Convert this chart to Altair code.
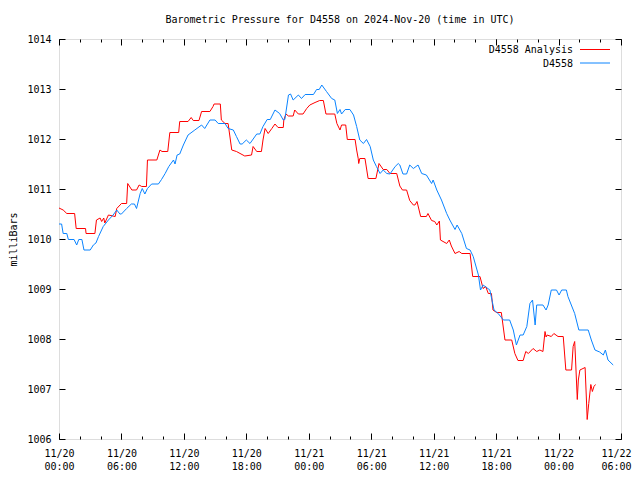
import altair as alt
import pandas as pd

# ---- data (hours after 2024-11-20 00:00 UTC, millibars) ----
series_names = ["D4558 Analysis", "D4558"]
series_colors = ["#ff0000", "#0a84ff"]

red_hours = [0.0, 0.4, 0.75, 1.5, 1.65, 2.55, 2.6, 3.45, 3.6, 3.95, 4.1, 4.3, 4.4, 4.75, 5.4, 5.55,
             6.0, 6.5, 6.6, 7.0, 7.45, 7.7, 7.95, 8.4, 8.5, 9.4, 9.7, 9.9, 10.45, 10.65, 11.5, 11.6,
             12.4, 12.7, 12.9, 13.45, 13.7, 14.5, 14.8, 14.9, 15.5, 15.6, 15.95, 16.25, 16.6, 17.05,
             17.85, 18.5, 18.65, 19.0, 19.45, 19.6, 19.8, 20.1, 20.45, 20.75, 21.05, 21.55, 21.6,
             21.8, 22.05, 22.5, 22.65, 23.0, 23.45, 23.8, 24.1, 24.6, 25.05, 25.4, 25.65, 26.5, 26.7,
             27.0, 27.15, 27.55, 27.7, 28.45, 28.6, 28.75, 28.8, 28.9, 29.4, 29.7, 30.45, 30.75,
             31.15, 31.5, 31.8, 32.45, 32.75, 33.0, 33.4, 33.7, 34.05, 34.2, 34.4, 34.75, 35.3,
             35.45, 35.8, 36.1, 36.3, 36.55, 36.65, 37.25, 37.5, 37.7, 38.05, 38.45, 38.7, 39.5,
             39.75, 40.45, 40.75, 41.0, 41.25, 41.55, 41.7, 42.05, 42.5, 42.85, 43.5, 43.8, 44.1,
             44.6, 44.85, 45.1, 45.55, 45.9, 46.2, 46.5, 46.7, 46.8, 46.9, 47.3, 47.55, 47.95,
             48.45, 48.7, 49.25, 49.4, 49.55, 49.6, 49.8, 49.9, 50.05, 50.35, 50.55, 50.7, 50.75,
             50.9, 51.1, 51.25, 51.4, 51.55]
red_values = [1010.62, 1010.58, 1010.51, 1010.51, 1010.21, 1010.21, 1010.11, 1010.11, 1010.38,
              1010.42, 1010.35, 1010.42, 1010.32, 1010.48, 1010.45, 1010.61, 1010.71, 1010.71,
              1011.11, 1010.98, 1010.98, 1011.08, 1011.05, 1011.05, 1011.58, 1011.58, 1011.78,
              1011.75, 1011.75, 1012.13, 1012.13, 1012.35, 1012.35, 1012.43, 1012.37, 1012.37,
              1012.55, 1012.55, 1012.65, 1012.70, 1012.70, 1012.38, 1012.31, 1012.31, 1011.78,
              1011.75, 1011.66, 1011.68, 1011.85, 1011.75, 1011.75, 1011.98, 1012.21, 1012.11,
              1012.21, 1012.30, 1012.23, 1012.23, 1012.38, 1012.50, 1012.46, 1012.46, 1012.58,
              1012.50, 1012.50, 1012.61, 1012.68, 1012.73, 1012.77, 1012.77, 1012.50, 1012.50,
              1012.31, 1012.18, 1012.28, 1012.28, 1011.99, 1011.99, 1011.78, 1011.61, 1011.51,
              1011.61, 1011.61, 1011.21, 1011.21, 1011.51, 1011.39, 1011.39, 1011.31, 1011.31,
              1011.06, 1010.98, 1010.98, 1010.77, 1010.68, 1010.68, 1010.75, 1010.45, 1010.45,
              1010.51, 1010.37, 1010.35, 1010.28, 1010.36, 1009.98, 1009.91, 1009.98, 1009.86,
              1009.71, 1009.75, 1009.71, 1009.71, 1009.25, 1009.25, 1009.01, 1009.05, 1008.91,
              1008.91, 1008.58, 1008.53, 1008.53, 1007.98, 1007.98, 1007.71, 1007.57, 1007.57,
              1007.75, 1007.71, 1007.81, 1007.75, 1007.78, 1007.75, 1008.15, 1008.04, 1008.08,
              1008.05, 1008.11, 1008.05, 1008.05, 1007.38, 1007.38, 1007.85, 1007.95, 1007.74,
              1006.79, 1007.18, 1007.38, 1007.41, 1007.43, 1006.68, 1006.39, 1006.71, 1007.09,
              1006.95, 1007.05, 1007.09]

blue_hours = [0.0, 0.25, 0.4, 0.75, 0.9, 1.45, 1.7, 1.9, 2.2, 2.4, 3.0, 3.3, 3.55, 3.8, 4.25, 4.75,
              5.2, 5.55, 5.85, 6.0, 6.5, 6.95, 7.25, 7.45, 7.8, 8.0, 8.25, 8.5, 8.9, 9.55, 9.85,
              10.2, 10.55, 11.0, 11.15, 11.35, 11.6, 11.95, 12.4, 13.05, 13.7, 14.0, 14.5, 15.0,
              15.3, 15.95, 16.25, 16.75, 17.05, 17.4, 17.6, 18.0, 18.35, 19.0, 19.3, 19.6, 20.0,
              20.3, 20.75, 21.2, 21.55, 21.7, 22.05, 22.25, 22.5, 23.0, 23.3, 23.65, 24.45, 24.75,
              25.0, 25.25, 25.7, 26.2, 26.5, 26.75, 27.0, 27.15, 27.5, 27.95, 28.3, 28.6, 28.9,
              29.25, 29.55, 29.9, 30.2, 30.5, 30.85, 31.15, 31.5, 31.8, 32.3, 32.6, 32.75, 33.05,
              33.4, 33.7, 34.05, 34.5, 34.85, 35.3, 35.8, 35.95, 36.3, 36.75, 37.25, 37.55, 38.05,
              38.25, 38.7, 39.15, 39.5, 39.8, 40.3, 40.5, 40.75, 41.4, 41.8, 42.2, 42.7, 43.3,
              43.65, 43.95, 44.3, 44.6, 44.95, 45.25, 45.5, 45.6, 45.75, 45.9, 46.5, 46.8, 47.0,
              47.3, 47.8, 48.05, 48.3, 48.75, 48.9, 49.55, 49.95, 50.85, 51.15, 51.5, 51.95, 52.3,
              52.5, 52.75, 53.25]
blue_values = [1010.30, 1010.30, 1010.11, 1010.11, 1009.99, 1009.99, 1009.88, 1009.99, 1009.99,
               1009.78, 1009.78, 1009.88, 1009.92, 1010.05, 1010.25, 1010.38, 1010.48, 1010.58,
               1010.50, 1010.50, 1010.61, 1010.70, 1010.70, 1010.61, 1010.91, 1011.01, 1010.90,
               1011.01, 1011.10, 1011.10, 1011.19, 1011.31, 1011.45, 1011.58, 1011.50, 1011.68,
               1011.70, 1011.88, 1012.08, 1012.18, 1012.28, 1012.21, 1012.38, 1012.38, 1012.31,
               1012.31, 1012.21, 1012.18, 1012.05, 1011.90, 1011.90, 1011.98, 1011.91, 1012.10,
               1012.10, 1012.25, 1012.39, 1012.39, 1012.58, 1012.51, 1012.38, 1012.39, 1012.88,
               1012.90, 1012.78, 1012.88, 1012.81, 1012.89, 1012.89, 1012.99, 1012.99, 1013.08,
               1012.95, 1012.81, 1012.78, 1012.51, 1012.59, 1012.50, 1012.59, 1012.59, 1012.48,
               1012.25, 1011.98, 1011.91, 1011.99, 1011.85, 1011.58, 1011.45, 1011.31, 1011.38,
               1011.31, 1011.30, 1011.45, 1011.51, 1011.48, 1011.30, 1011.30, 1011.48, 1011.41,
               1011.48, 1011.31, 1011.28, 1011.11, 1011.18, 1010.98, 1010.78, 1010.51, 1010.38,
               1010.19, 1010.28, 1010.11, 1009.81, 1009.78, 1009.65, 1009.28, 1008.98, 1009.08,
               1008.98, 1008.58, 1008.51, 1008.38, 1008.38, 1008.18, 1007.88, 1008.08, 1008.08,
               1008.25, 1008.71, 1008.78, 1008.58, 1008.28, 1008.68, 1008.68, 1008.58, 1008.68,
               1008.98, 1008.98, 1008.88, 1008.98, 1008.98, 1008.85, 1008.51, 1008.18, 1008.18,
               1007.98, 1007.78, 1007.74, 1007.68, 1007.78, 1007.58, 1007.48]

y_ticks = [1006, 1007, 1008, 1009, 1010, 1011, 1012, 1013, 1014]
x_major = [0, 6, 12, 18, 24, 30, 36, 42, 48, 54]
x_minor = list(range(0, 55, 2))

title_text = "Barometric Pressure for D4558 on 2024-Nov-20 (time in UTC)"
y_title = "milliBars"

df = pd.concat([
    pd.DataFrame({"hour": red_hours, "pressure": red_values, "series": series_names[0]}),
    pd.DataFrame({"hour": blue_hours, "pressure": blue_values, "series": series_names[1]}),
])

FONT = "DejaVu Sans Mono"
FS = 10

xscale = alt.Scale(domain=[0, 54], nice=False, zero=False)
yscale = alt.Scale(domain=[1006, 1014], nice=False, zero=False)

label_expr = ("['11/' + (20 + floor(datum.value / 24)), "
              "(datum.value % 24 < 10 ? '0' : '') + (datum.value % 24) + ':00']")

base = alt.Chart(df)

lines = base.mark_line(strokeWidth=1, interpolate="linear").encode(
    x=alt.X("hour:Q", scale=xscale,
            axis=alt.Axis(orient="bottom", values=x_major, labelExpr=label_expr, ticks=False,
                          domain=False, grid=False, title=None, labelFont=FONT, labelFontSize=FS,
                          labelColor="black", labelPadding=9, labelLineHeight=13,
                          labelFlush=False, labelOverlap=False,
                          labelOffset={"condition": {"test": "datum.value >= 54", "value": -5},
                                       "value": 0})),
    y=alt.Y("pressure:Q", scale=yscale,
            axis=alt.Axis(orient="left", values=y_ticks, format="d", ticks=False, domain=False,
                          grid=False, title=y_title, labelFont=FONT, labelFontSize=FS,
                          labelColor="black", labelPadding=8, titleFont=FONT,
                          titleFontSize=FS, titleFontWeight="normal", titleColor="black",
                          titlePadding=8, labelFlush=False)),
    color=alt.Color("series:N", scale=alt.Scale(domain=series_names, range=series_colors),
                    legend=None),
    detail="series:N",
)


def tick_layer(channel, orient, values, size):
    ax = alt.Axis(orient=orient, values=values, labels=False, domain=False, grid=False,
                  title=None, tickSize=size, offset=-size, tickColor="black", tickWidth=1)
    if channel == "x":
        enc = dict(x=alt.X("hour:Q", scale=xscale, axis=ax),
                   y=alt.Y("pressure:Q", scale=yscale, axis=None))
    else:
        enc = dict(x=alt.X("hour:Q", scale=xscale, axis=None),
                   y=alt.Y("pressure:Q", scale=yscale, axis=ax))
    return base.mark_point(opacity=0).encode(**enc)


ticks = [
    tick_layer("x", "bottom", x_minor, 3),
    tick_layer("x", "bottom", x_major, 6),
    tick_layer("x", "top", x_minor, 3),
    tick_layer("x", "top", x_major, 6),
    tick_layer("y", "left", y_ticks, 6),
    tick_layer("y", "right", y_ticks, 6),
]

# legend (top-right, inside plot)
legend_layers = []
for i, (name, col) in enumerate(zip(series_names, series_colors)):
    ypos = 11 + 13.5 * i
    legend_layers.append(
        alt.Chart(pd.DataFrame({"a": [0]})).mark_text(
            align="right", baseline="middle", font=FONT, fontSize=FS, color="black"
        ).encode(x=alt.value(514), y=alt.value(ypos), text=alt.value(name))
    )
    legend_layers.append(
        alt.Chart(pd.DataFrame({"a": [0]})).mark_rule(color=col, strokeWidth=1).encode(
            x=alt.value(521), x2=alt.value(551), y=alt.value(ypos - 0.5))
    )

chart = alt.layer(lines, *ticks, *legend_layers).resolve_axis(
    x="independent", y="independent"
).properties(
    width=562, height=400,
    title=alt.TitleParams(title_text, font=FONT, fontSize=FS, fontWeight="normal",
                          anchor="middle", color="black", offset=9),
    autosize=alt.AutoSizeParams(type="none"),
    padding={"left": 51, "top": 31, "right": 11, "bottom": 33},
).configure_view(stroke="black", strokeWidth=1).configure(background="white")

chart.save("out.html", embed_options={"renderer": "svg", "actions": False})
